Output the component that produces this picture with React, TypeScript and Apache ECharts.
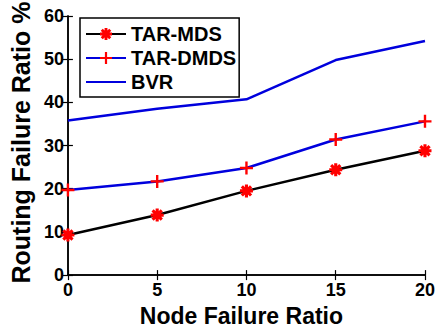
import React, { useEffect, useRef } from "react";
import * as echarts from "echarts";

const xValues = [0, 5, 10, 15, 20];
const tarMds = [9.3, 13.9, 19.5, 24.4, 28.8];
const tarDmds = [19.7, 21.7, 24.8, 31.4, 35.6];
const bvr = [35.8, 38.5, 40.7, 49.8, 54.2];
const seriesNames = ["TAR-MDS", "TAR-DMDS", "BVR"];

const FONT = "Liberation Sans, Arial, sans-serif";
const STAR =
  "path://M-5,-1.2H5V1.2H-5Z M-1.2,-5H1.2V5H-1.2Z M-2.69,-4.39L4.39,2.69L2.69,4.39L-4.39,-2.69Z M4.39,-2.69L-2.69,4.39L-4.39,2.69L2.69,-4.39Z";
const PLUS = "path://M-6,-1.1H6V1.1H-6Z M-1.1,-6H1.1V6H-1.1Z";

export default function App() {
  const ref = useRef<HTMLDivElement>(null);
  useEffect(() => {
    if (!ref.current) return;
    const chart = echarts.init(ref.current, null, { renderer: "svg" });
    const pair = (arr: number[]) => arr.map((v, i) => [xValues[i], v]);
    const axisLine = { show: true, lineStyle: { color: "#000", width: 1.5 } };
    const tick = { show: true, inside: true, length: 5, lineStyle: { color: "#000", width: 1.2 } };
    chart.setOption({
      animation: false,
      backgroundColor: "#fff",
      grid: { left: 66, top: 16, right: 12, bottom: 45, containLabel: false },
      legend: {
        orient: "vertical",
        left: 80,
        top: 18,
        data: [
          { name: seriesNames[0] },
          { name: seriesNames[1] },
          { name: seriesNames[2], itemStyle: { opacity: 0 } },
        ],
        itemWidth: 40,
        itemHeight: 15,
        itemGap: 4,
        padding: [6, 3, 5, 5],
        borderColor: "#000",
        borderWidth: 1.5,
        backgroundColor: "#fff",
        textStyle: { fontFamily: FONT, fontWeight: "bold", fontSize: 20, color: "#000", lineHeight: 20 },
      },
      xAxis: [
        {
          type: "value",
          min: 0,
          max: 20,
          interval: 5,
          position: "bottom",
          name: "Node Failure Ratio",
          nameLocation: "middle",
          nameGap: 26,
          nameTextStyle: { fontFamily: FONT, fontWeight: "bold", fontSize: 23, color: "#000", padding: [0, 10, 0, 0] },
          axisLine,
          axisTick: tick,
          splitLine: { show: false },
          axisLabel: { fontFamily: FONT, fontWeight: "bold", fontSize: 18, color: "#000", margin: 6 },
        },
        {
          type: "value",
          min: 0,
          max: 20,
          interval: 5,
          position: "top",
          axisLine,
          axisTick: tick,
          splitLine: { show: false },
          axisLabel: { show: false },
        },
      ],
      yAxis: [
        {
          type: "value",
          min: 0,
          max: 60,
          interval: 10,
          position: "left",
          name: "Routing Failure Ratio %",
          nameLocation: "middle",
          nameRotate: 90,
          nameGap: 30,
          nameTextStyle: { fontFamily: FONT, fontWeight: "bold", fontSize: 25, color: "#000", padding: [0, 0, 0, 6] },
          axisLine,
          axisTick: tick,
          splitLine: { show: false },
          axisLabel: { fontFamily: FONT, fontWeight: "bold", fontSize: 18, color: "#000", margin: 4 },
        },
        {
          type: "value",
          min: 0,
          max: 60,
          interval: 10,
          position: "right",
          axisLine,
          axisTick: tick,
          splitLine: { show: false },
          axisLabel: { show: false },
        },
      ],
      series: [
        {
          name: "BVR",
          type: "line",
          data: pair(bvr),
          showSymbol: false,
          symbol: "none",
          lineStyle: { color: "#0000dd", width: 2.5 },
          itemStyle: { color: "#0000dd" },
        },
        {
          name: "TAR-DMDS",
          type: "line",
          data: pair(tarDmds),
          symbol: PLUS,
          symbolSize: 13,
          lineStyle: { color: "#0000dd", width: 2.5 },
          itemStyle: { color: "#ff0000" },
        },
        {
          name: "TAR-MDS",
          type: "line",
          data: pair(tarMds),
          symbol: STAR,
          symbolSize: 13,
          lineStyle: { color: "#000", width: 2.5 },
          itemStyle: { color: "#ff0000" },
        },
      ],
    });
    return () => chart.dispose();
  }, []);
  return <div ref={ref} style={{ width: 438, height: 332, position: "absolute", left: 0, top: 0 }} />;
}
